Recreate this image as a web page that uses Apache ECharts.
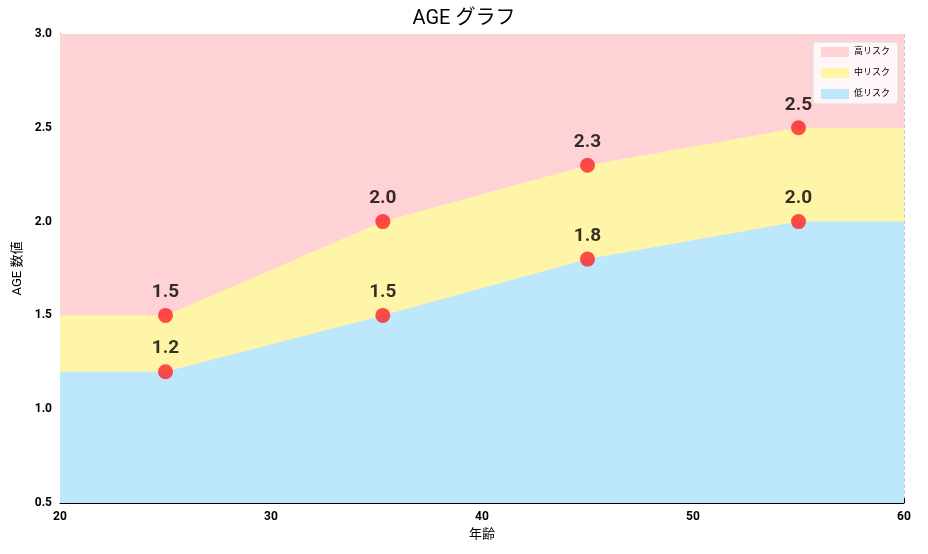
<!DOCTYPE html>
<html><head><meta charset="utf-8">
<script src="https://cdn.jsdelivr.net/npm/echarts@6/dist/echarts.min.js"></script>
<style>html,body{margin:0;background:#fff}#c{width:928px;height:554px}</style>
</head><body><div id="c"></div>
<script>
// boundary lines between the risk bands
const boundaryX = [20, 25, 35.3, 45, 55, 60];
const lowUpper = [1.2, 1.2, 1.5, 1.8, 2.0, 2.0];
const midUpper = [1.5, 1.5, 2.0, 2.3, 2.5, 2.5];
const highUpper = [3.0, 3.0, 3.0, 3.0, 3.0, 3.0];
// marked points
const pointX = [25, 25, 35.3, 35.3, 45, 45, 55, 55];
const pointY = [1.5, 1.2, 2.0, 1.5, 2.3, 1.8, 2.5, 2.0];

const font = "Roboto, 'Noto Sans CJK JP', sans-serif";
const zip = (xs, ys) => xs.map((x, i) => [x, ys[i]]);
const band = (name, ys, color, z) => ({
  name, type: "line", data: zip(boundaryX, ys), symbol: "none", z,
  lineStyle: { width: 0 }, areaStyle: { color, opacity: 1, origin: "start" }, itemStyle: { color },
});

const chart = echarts.init(document.getElementById("c"));
chart.setOption({
  animation: false,
  textStyle: { fontFamily: font },
  title: { text: "AGE グラフ", left: "center", top: 4, textStyle: { fontSize: 20, fontWeight: "normal", color: "#000", fontFamily: font } },
  grid: { left: 60, right: 24, top: 34, bottom: 51 },
  legend: {
    right: 30, top: 42, orient: "vertical", itemWidth: 28, itemHeight: 10, itemGap: 11,
    backgroundColor: "rgba(255,255,255,0.8)", borderColor: "#ddd", borderWidth: 1, borderRadius: 3, padding: [5, 8],
    textStyle: { fontSize: 9, color: "#000" }, icon: "rect",
    data: ["高リスク", "中リスク", "低リスク"],
  },
  xAxis: {
    type: "value", min: 20, max: 60, interval: 10, name: "年齢", nameLocation: "middle", nameGap: 24,
    nameTextStyle: { fontSize: 13, color: "#000" },
    axisLine: { lineStyle: { color: "#000" } }, axisTick: { inside: true, lineStyle: { color: "#000" } },
    axisLabel: { color: "#000", fontSize: 12, fontWeight: "bold" },
    splitLine: { lineStyle: { type: "dashed", color: "#ccc" } },
  },
  yAxis: {
    type: "value", min: 0.5, max: 3.0, interval: 0.5, name: "AGE 数値", nameLocation: "middle", nameGap: 36,
    nameTextStyle: { fontSize: 13, color: "#000" },
    axisLine: { show: true, lineStyle: { color: "#000" } }, axisTick: { show: true, inside: true, lineStyle: { color: "#000" } },
    axisLabel: { color: "#000", fontSize: 12, fontWeight: "bold", formatter: (v) => v.toFixed(1) },
    splitLine: { lineStyle: { type: "dashed", color: "#ccc" } },
  },
  series: [
    band("高リスク", highUpper, "#FFD2D6", 1),
    band("中リスク", midUpper, "#FFF5A8", 2),
    band("低リスク", lowUpper, "#BDE7FA", 3),
    {
      type: "scatter", data: zip(pointX, pointY), symbolSize: 15, z: 5,
      itemStyle: { color: "#FF2026" },
      label: { show: true, position: "top", distance: 6, fontSize: 19, fontWeight: "bold", color: "#000", formatter: (p) => p.value[1].toFixed(1) },
    },
  ],
});
</script></body></html>
